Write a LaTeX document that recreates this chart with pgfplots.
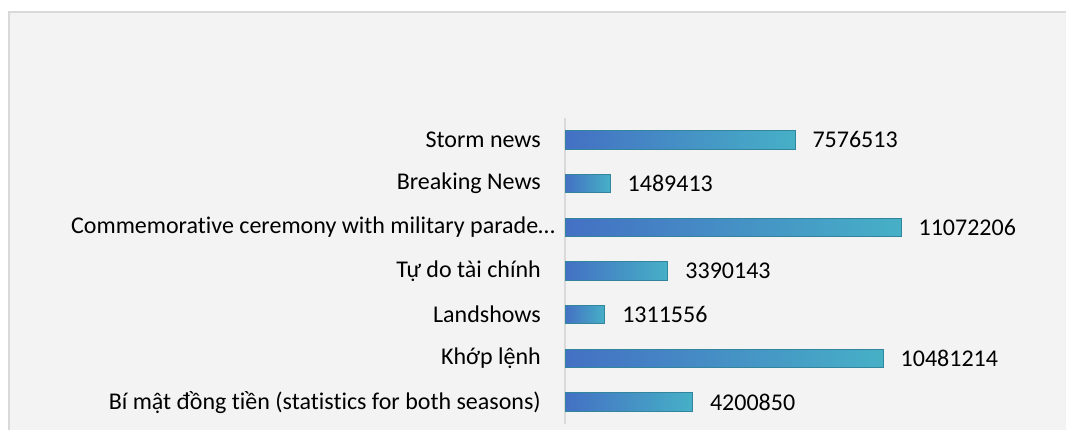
\documentclass[border=0pt]{standalone}
\usepackage{pgfplots}
\pgfplotsset{compat=1.18}
\usepackage{fontspec}
\setmainfont{Carlito}[Ligatures={NoCommon}]
\definecolor{bgc}{HTML}{F3F3F3}
\definecolor{brd}{HTML}{D9D9D9}
\definecolor{barL}{HTML}{4470C4}
\definecolor{barR}{HTML}{46B0C6}
\definecolor{barE}{HTML}{31859C}
\begin{document}
\begin{tikzpicture}[x=1pt,y=1pt]
\useasboundingbox (0,0) rectangle (1066,430);
\fill[white] (0,0) rectangle (1066,430);
\fill[bgc] (9,0) rectangle (1066,418);
\draw[brd, line width=1.5pt] (9,0) -- (9,418) -- (1066,418);
\begin{axis}[
  at={(565pt,6pt)}, anchor=south west,
  scale only axis, width=425pt, height=306pt,
  xmin=0, xmax=14000000, ymin=-0.5, ymax=6.5,
  axis x line=none, axis y line*=left,
  y axis line style={brd, line width=1.5pt},
  ytick={0,1,2,3,4,5,6},
  yticklabels={{Bí mật đồng tiền (statistics for both seasons)},{Khớp lệnh},{Landshows},{Tự do tài chính},{Commemorative ceremony with military parade…\hspace*{-14pt}},{Breaking News},{Storm news}},
  major tick length=0pt, ytick style={draw=none},
  yticklabel style={inner sep=0pt, anchor=east, xshift=-24pt, font=\fontsize{24}{28}\selectfont, text=black},
  xbar, bar width=18.5pt, bar shift=0pt, clip=false,
  point meta=explicit symbolic,
  nodes near coords={\pgfplotspointmeta},
  every node near coord/.append style={font=\fontsize{24}{28}\selectfont, text=black, anchor=west, inner sep=0pt, xshift=17pt},
  gbar/.style={xbar, bar shift=0pt, draw=barE, line width=1pt, left color=barL, right color=barR},
]
\addplot[gbar] coordinates {(4200850,0) [4200850]};
\addplot[gbar] coordinates {(10481214,1) [10481214]};
\addplot[gbar] coordinates {(1311556,2) [1311556]};
\addplot[gbar] coordinates {(3390143,3) [3390143]};
\addplot[gbar] coordinates {(11072206,4) [11072206]};
\addplot[gbar] coordinates {(1489413,5) [1489413]};
\addplot[gbar] coordinates {(7576513,6) [7576513]};
\end{axis}
\end{tikzpicture}
\end{document}
